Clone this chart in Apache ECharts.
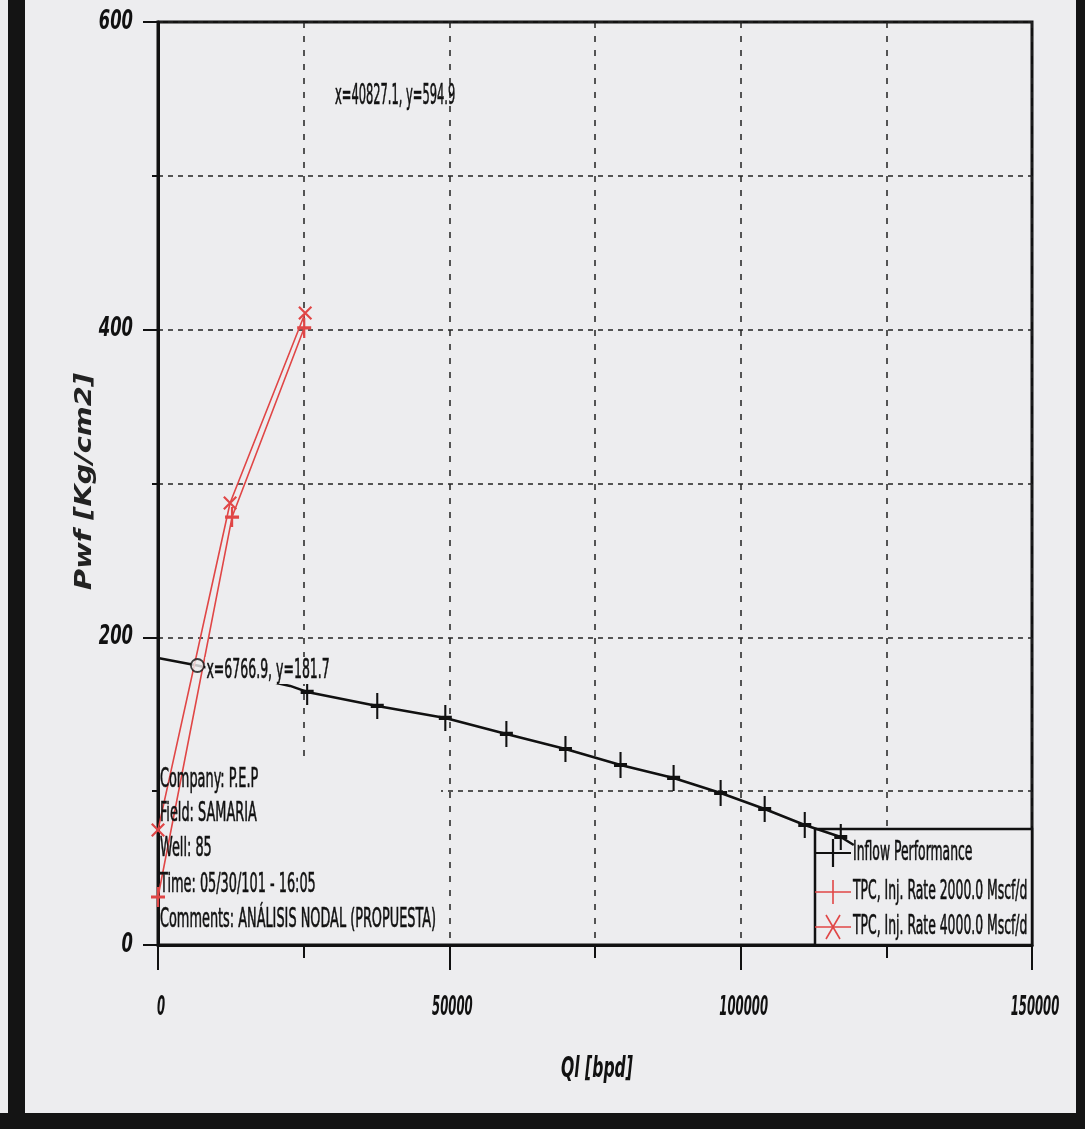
<!DOCTYPE html>
<html><head><meta charset="utf-8">
<script src="https://cdn.jsdelivr.net/npm/echarts@6/dist/echarts.min.js"></script>
<style>html,body{margin:0;padding:0;background:#ededef;}#c{width:1085px;height:1129px;}</style>
</head><body><div id="c"></div>
<script>
// ---- data ----
const iprQ = [0, 6766.9, 22680, 25600, 37630, 49310, 59790, 69930, 79380, 88490, 96560, 104120, 111000, 117180, 119410];
const iprP = [186.6, 181.7, 168.4, 164.5, 155.4, 147.6, 137.2, 127.4, 117.0, 108.6, 98.8, 88.4, 78.0, 70.2, 65.0];
const iprMarked = [0, 0, 0, 1, 1, 1, 1, 1, 1, 1, 1, 1, 1, 1, 0];
const tpc2000Q = [0, 12710, 25090];
const tpc2000P = [31.2, 278.2, 401.1];
const tpc4000Q = [0, 12370, 25260];
const tpc4000P = [74.8, 287.3, 410.8];
const opQ = [6766.9];
const opP = [181.7];
const cursorQ = 40827.1, cursorP = 594.9;
const xTickLabels = [0, 50000, 100000, 150000];
const yTickLabels = [0, 200, 400, 600];
const seriesNames = ['Inflow Performance', 'TPC, Inj. Rate 2000.0 Mscf/d', 'TPC, Inj. Rate 4000.0 Mscf/d'];
const infoLines = ['Company: P.E.P', 'Field: SAMARIA', 'Well: 85', 'Time: 05/30/101 - 16:05', 'Comments: ANÁLISIS NODAL (PROPUESTA)'];
const xTitle = 'Ql [bpd]';
const yTitle = 'Pwf [Kg/cm2]';

// ---- styling ----
const BG = '#ededef';
const INK = '#111';
const NARROW = "'DejaVu Sans Condensed', 'Liberation Sans', sans-serif";
const PLUS = 'path://M4.2,0h1.6v10h-1.6z M0,4.2h10v1.6h-10z';
const CROSS = 'path://M0,1.1L1.1,0L10,8.9L8.9,10z M8.9,0L10,1.1L1.1,10L0,8.9z';
const RED = '#e04646';

const chart = echarts.init(document.getElementById('c'), null, {renderer: 'canvas'});

chart.setOption({
  animation: false,
  backgroundColor: BG,
  grid: {left: 158, right: 53, top: 22, bottom: 184, show: true, borderColor: INK, borderWidth: 3, backgroundColor: 'transparent'},
  xAxis: {
    type: 'value', min: 0, max: 150000, interval: 50000,
    axisLine: {lineStyle: {color: INK, width: 3}},
    axisTick: {show: true, length: 25, lineStyle: {color: INK, width: 2}},
    minorTick: {show: true, splitNumber: 2, length: 13, lineStyle: {color: INK, width: 2}},
    axisLabel: {show: false},
    splitLine: {show: true, lineStyle: {color: '#222', type: [6, 8], width: 1.5}},
    minorSplitLine: {show: true, lineStyle: {color: '#222', type: [6, 8], width: 1.5}}
  },
  yAxis: {
    type: 'value', min: 0, max: 600, interval: 200,
    axisLine: {show: true, lineStyle: {color: INK, width: 3}},
    axisTick: {show: true, length: 15, lineStyle: {color: INK, width: 2}},
    minorTick: {show: true, splitNumber: 2, length: 6, lineStyle: {color: INK, width: 2}},
    axisLabel: {show: false},
    splitLine: {show: true, lineStyle: {color: '#222', type: [5, 5], width: 1.5}},
    minorSplitLine: {show: true, lineStyle: {color: '#222', type: [5, 5], width: 1.5}}
  },
  series: [
    {
      name: seriesNames[0], type: 'line', z: 3,
      data: iprQ.map((q, i) => ({value: [q, iprP[i]], symbol: iprMarked[i] ? PLUS : 'none'})),
      symbol: PLUS, symbolSize: [13, 26], showAllSymbol: true,
      lineStyle: {color: INK, width: 2.5},
      itemStyle: {color: INK}
    },
    {
      name: seriesNames[1], type: 'line', z: 3,
      data: tpc2000Q.map((q, i) => [q, tpc2000P[i]]),
      symbol: PLUS, symbolSize: [14, 20],
      lineStyle: {color: RED, width: 1.6},
      itemStyle: {color: RED}
    },
    {
      name: seriesNames[2], type: 'line', z: 3,
      data: tpc4000Q.map((q, i) => [q, tpc4000P[i]]),
      symbol: CROSS, symbolSize: 14,
      lineStyle: {color: RED, width: 1.6},
      itemStyle: {color: RED}
    },
    {
      name: 'operating point', type: 'scatter', z: 5,
      data: opQ.map((q, i) => [q, opP[i]]),
      symbol: 'circle', symbolSize: 13,
      itemStyle: {color: BG, borderColor: INK, borderWidth: 1.8}
    }
  ]
});

// ---- texts, placed through the chart's own scales ----
const px = (x, y) => chart.convertToPixel({gridIndex: 0}, [x, y]);
const g = [];
const txt = (x, y, text, o) => Object.assign({type: 'text', z: 6, x: x, y: y, scaleX: o.sx || 1,
  style: Object.assign({text: text, fontFamily: NARROW, fontSize: 27, fill: INK, stroke: INK, lineWidth: 0.6, textVerticalAlign: 'middle'}, o.style || {})}, o.extra || {});

// tick labels
xTickLabels.forEach(v => {
  const p = px(v, 0);
  g.push(txt(p[0] + 3, p[1] + 63, String(v), {sx: 0.48, style: {fontSize: 27, fontWeight: 'bold', fontStyle: 'italic', textAlign: 'center', lineWidth: 0}}));
});
yTickLabels.forEach(v => {
  const p = px(0, v);
  g.push(txt(p[0] - 25, p[1], String(v), {sx: 0.7, style: {fontSize: 26, fontWeight: 'bold', fontStyle: 'italic', textAlign: 'right', lineWidth: 0}}));
});
// axis titles
const xMid = px(75000, 0);
g.push(txt(xMid[0] + 2, xMid[1] + 125, xTitle, {sx: 0.62, style: {fontSize: 28, fontWeight: 'bold', fontStyle: 'italic', textAlign: 'center', lineWidth: 0}}));
const yMid = px(0, 300);
g.push(txt(85, yMid[1] - 2, yTitle, {sx: 1.25, style: {fontFamily: "'DejaVu Sans', sans-serif", fontSize: 23, fontWeight: 'bold', fontStyle: 'italic', fill: '#222', lineWidth: 0, textAlign: 'center'}, extra: {rotation: Math.PI / 2}}));

// info box (covers grid lines, sits below the series)
const org = px(0, 0);
g.push({type: 'rect', z: 1, shape: {x: org[0] + 2, y: 757, width: 281, height: org[1] - 759}, style: {fill: BG}});
infoLines.forEach((t, i) => g.push(txt(org[0] + 2, [780, 814, 849, 885, 920][i], t, {sx: 0.53})));

// cursor readout and operating point readout
g.push(txt(335, 97, 'x=' + cursorQ.toFixed(1) + ', y=' + cursorP.toFixed(1), {sx: 0.455, style: {fontSize: 28}}));
const op = px(opQ[0], opP[0]);
g.push(txt(op[0] + 8, op[1] + 5, 'x=' + opQ[0].toFixed(1) + ', y=' + opP[0].toFixed(1),
  {sx: 0.515, style: {backgroundColor: BG, padding: [0, 2, 0, 2]}, extra: {z: 4}}));

// legend box
const LX = 815, LY = 829, LW = 217, LH = org[1] - 829;
g.push({type: 'rect', z: 1, shape: {x: LX, y: LY, width: LW, height: LH}, style: {fill: BG, stroke: INK, lineWidth: 2.5}});
const rowsY = [853, 892, 927];
const rowColor = [INK, RED, RED];
rowsY.forEach((ry, i) => {
  g.push({type: 'line', z: 5, shape: {x1: LX, y1: ry, x2: LX + 36, y2: ry}, style: {stroke: rowColor[i], lineWidth: i ? 1.6 : 2.2}});
  const cx = LX + 18;
  if (i < 2) {
    const h = i ? 12 : 14;
    g.push({type: 'line', z: 5, shape: {x1: cx, y1: ry - h, x2: cx, y2: ry + h}, style: {stroke: rowColor[i], lineWidth: i ? 1.6 : 2.2}});
  } else {
    g.push({type: 'line', z: 5, shape: {x1: cx - 7, y1: ry - 12, x2: cx + 7, y2: ry + 12}, style: {stroke: RED, lineWidth: 1.6}});
    g.push({type: 'line', z: 5, shape: {x1: cx + 7, y1: ry - 12, x2: cx - 7, y2: ry + 12}, style: {stroke: RED, lineWidth: 1.6}});
  }
  g.push(txt(LX + 38, ry, seriesNames[i], {sx: 0.53, style: {fontSize: 26}}));
});

// scan frame
g.push({type: 'rect', z: 10, shape: {x: 8, y: 0, width: 17, height: 1129}, style: {fill: '#141414'}});
g.push({type: 'rect', z: 10, shape: {x: 1076, y: 0, width: 9, height: 1129}, style: {fill: '#141414'}});
g.push({type: 'rect', z: 10, shape: {x: 0, y: 1113, width: 1085, height: 16}, style: {fill: '#141414'}});

chart.setOption({graphic: g});
</script></body></html>
